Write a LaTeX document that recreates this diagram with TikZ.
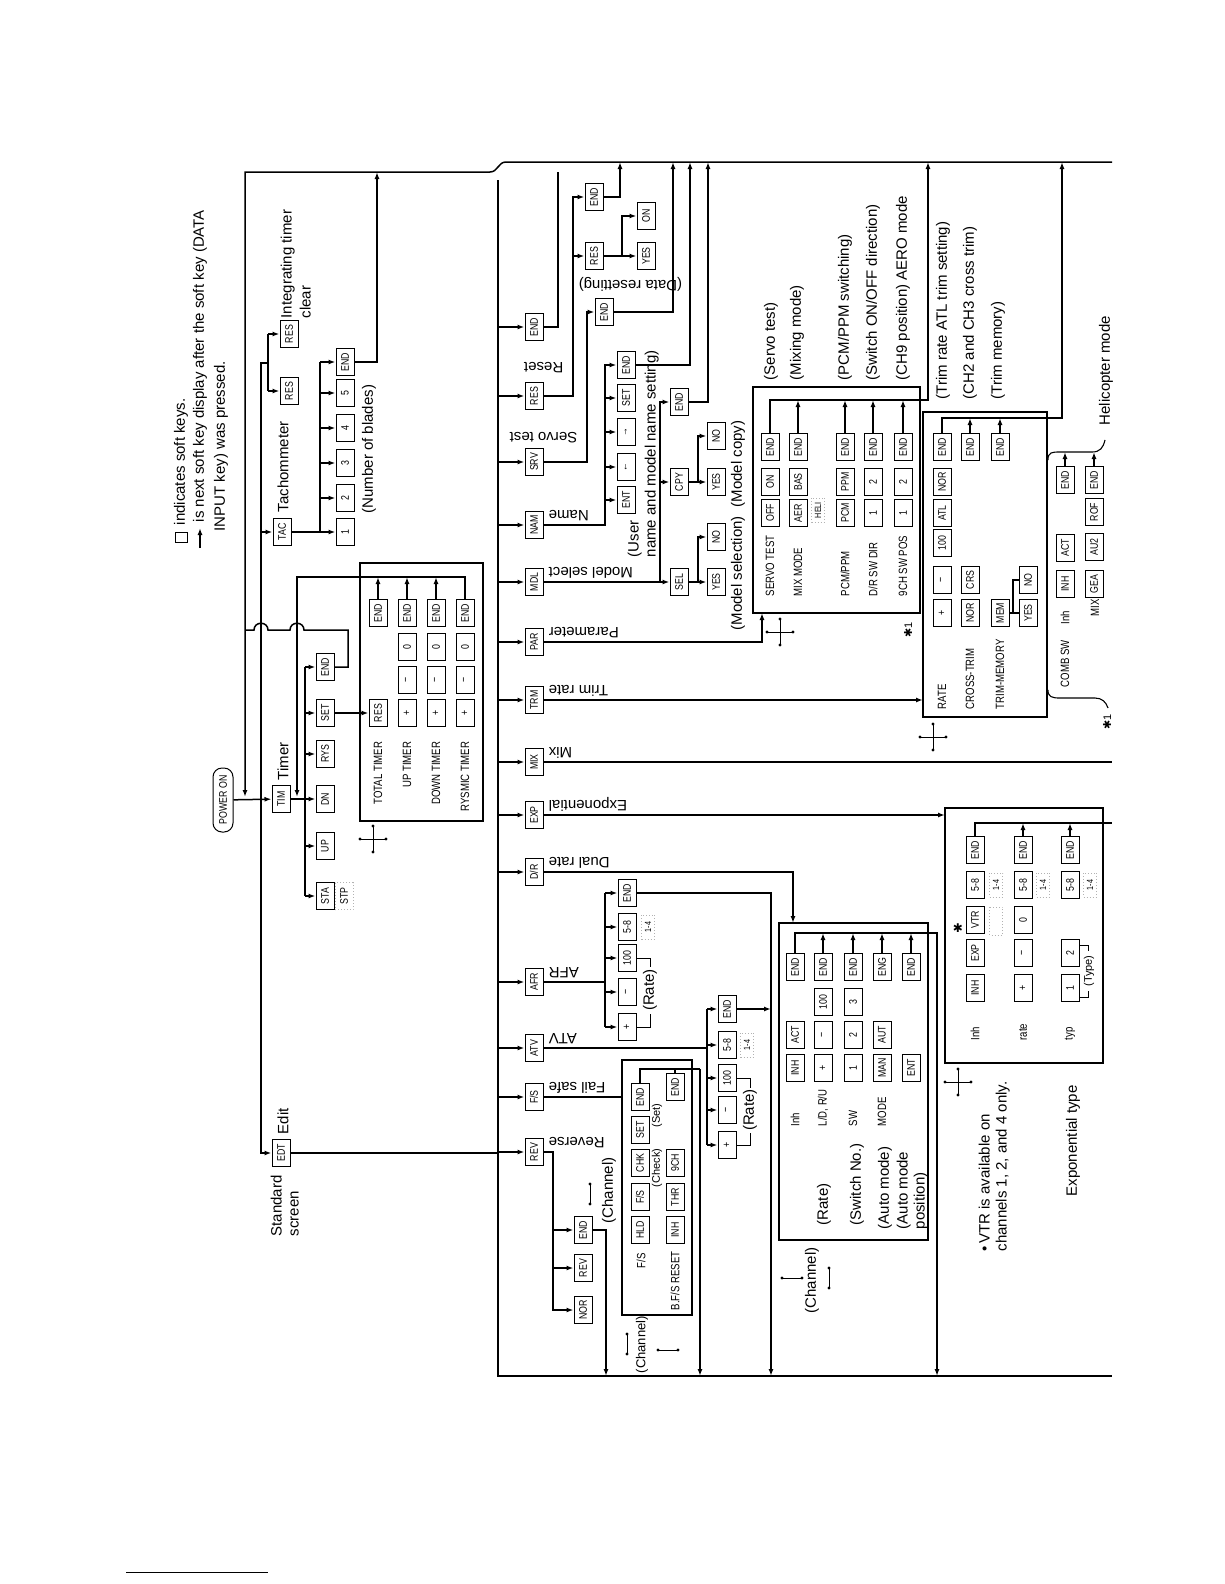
\documentclass[tikz,border=0pt]{standalone}
\usepackage{fontspec}
\setmainfont{Liberation Sans}
\newfontfamily\condfont[FakeStretch=0.8]{Liberation Sans}
\newfontfamily\symfont{DejaVu Sans}
\usepackage{tikz}
\usetikzlibrary{positioning, shapes, arrows.meta, calc, decorations.pathreplacing}

\begin{document}
\begin{tikzpicture}[x=1pt, y=-1pt, line width=1.5pt,
    >={Latex[length=7pt, width=5pt]},
    font=\fontsize{15}{17}\selectfont,
    key/.style={draw, line width=1pt, fill=white, rotate=90, minimum width=27pt,
      minimum height=18pt, inner sep=0.5pt, font=\condfont\fontsize{11}{11}\selectfont},
    ghost/.style={key, draw=gray!60, dotted, fill=none},
    smallghost/.style={ghost, minimum width=24pt, minimum height=13pt, font=\condfont\fontsize{9}{9}\selectfont},
    pill/.style={key, rounded corners=9pt, minimum width=64pt, minimum height=20pt},
    lab/.style={rotate=90, anchor=west, inner sep=0pt},
    blab/.style={lab, font=\condfont\fontsize{12}{13}\selectfont},
    slab/.style={lab, font=\fontsize{11}{12}\selectfont},
    flip/.style={rotate=180, anchor=north east, inner sep=0pt},
    xhair/.pic={
      \draw[line width=0.8pt] (-13,0) -- (13,0) (0,-13) -- (0,13);
      \fill (-13,0) circle (1.7) (13,0) circle (1.7) (0,-13) circle (1.7) (0,13) circle (1.7);},
    dmark/.pic={
      \draw[line width=0.8pt] (-10,0) -- (10,0);
      \fill (-10,0) circle (1.6) (10,0) circle (1.6);}]
\useasboundingbox (0,0) rectangle (1224,1584);

% bus positions
\coordinate (mb) at (498,0);
\coordinate (lb) at (261,0);
\coordinate (tb) at (305,0);
\coordinate (tcb) at (320,0);
\coordinate (rsb) at (573,0);
\coordinate (nmb) at (605,0);
\coordinate (mdb) at (660,0);
\coordinate (afb) at (605,0);
\coordinate (atb) at (707,0);
\coordinate (rvb) at (553,0);
\coordinate (tbline) at (0,577);
\coordinate (pline) at (0,400);
\coordinate (trline) at (0,418);
\coordinate (chline) at (0,933);
\coordinate (vline) at (0,823);
\coordinate (fsline) at (0,1069);
\coordinate (hbrace) at (0,452);

% legend
\node[draw, line width=0.9pt, minimum width=12pt, minimum height=10pt, inner sep=0pt] (lgBox) at (181,537) {};
\node[lab] (lgTxt1) at (181,526) {indicates soft keys.};
\coordinate (lgArrA) at (200,548);
\coordinate (lgArrB) at (200,528);
\draw[->] (lgArrA) -- (lgArrB);
\node[lab] (lgTxt2) at (200,523) {is next soft key display after the soft key (DATA};
\node[lab] (lgTxt3) at (221,532) {INPUT key) was pressed.};

% power on, tachometer, edit
\node[pill] (pwr) at (223,800) {POWER ON};
\node[key] (tmTim) at (281,799) {TIM};
\node[lab] (tmLab) at (283,781) {Timer};
\node[key] (tcTac) at (282,532) {TAC};
\node[lab] (tcLab) at (283,513) {Tachommeter};
\node[key] (trRes1) at (289,391) {RES};
\node[key] (trRes2) at (289,334) {RES};
\node[lab, align=left, anchor=north west] (trLab) at (280,319) {Integrating timer\\[2pt]clear};
\node[key] (edt) at (281,1153) {EDT};
\node[lab] (edLab) at (283,1135) {Edit};
\node[lab, align=left, anchor=north west] (stdLab) at (270,1237) {Standard\\screen};

\draw[->] (pwr) -- (tmTim);
\draw[->] (268,363) -- (261,363) -- (lb |- edt) -- (edt);
\draw (268,334) -- (268,391);
\draw[->] (268,334) -- (trRes2);
\draw[->] (268,391) -- (trRes1);
\draw[->] (lb |- tcTac) -- (tcTac);

% tachometer blades
\node[key] (tc1) at (345,532) {1};
\node[key] (tc2) at (345,498) {2};
\node[key] (tc3) at (345,463) {3};
\node[key] (tc4) at (345,428) {4};
\node[key] (tc5) at (345,393) {5};
\node[key] (tcEnd) at (345,362) {END};
\node[lab] (tcNote) at (369,514) {(Number of blades)};
\draw[->] (tcTac) -- (tc1);
\draw (tcb |- tcEnd) -- (tcb |- tc1);
\foreach \n in {tc2,tc3,tc4,tc5,tcEnd}
  \draw[->] (tcb |- \n) -- (\n);
\draw[->] (tcEnd) -| (377,172);

% timer keys
\node[key] (tmDn) at (325,799) {DN};
\node[key] (tmUp) at (325,846) {UP};
\node[key] (tmSta) at (325,896) {STA};
\node[ghost] (tmStp) at (344,896) {STP};
\node[key] (tmRys) at (325,754) {RYS};
\node[key] (tmSet) at (325,713) {SET};
\node[key] (tmEnd) at (325,667) {END};
\draw[->] (tmTim) -- (tmDn);
\draw (tb |- tmEnd) -- (tb |- tmSta);
\foreach \n in {tmEnd,tmSet,tmRys,tmUp,tmSta}
  \draw[->] (tb |- \n) -- (\n);
\draw (tmEnd) -| (348,630) -- (304,630) .. controls (304,621) and (290,621) .. (290,630)
  -- (268,630) .. controls (268,621) and (254,621) .. (254,630) -- (245,630);

% timer box
\draw (360,563) rectangle (483,821);
\node[key] (tbRes) at (378,713) {RES};
\node[key] (tbEnd1) at (378,613) {END};
\foreach \x/\r in {407/2,436/3,465/4} {
  \node[key] (tbPlus\r) at (\x,713) {+};
  \node[key] (tbMinus\r) at (\x,680) {−};
  \node[key] (tbZero\r) at (\x,647) {0};
  \node[key] (tbEnd\r) at (\x,613) {END};
}
\node[blab, anchor=east] (tbLab1) at (378,741) {TOTAL TIMER};
\node[blab, anchor=east] (tbLab2) at (407,741) {UP TIMER};
\node[blab, anchor=east] (tbLab3) at (436,741) {DOWN TIMER};
\node[blab, anchor=east] (tbLab4) at (465,741) {RYSMIC TIMER};
\draw[->] (tmSet) -- (tbRes);
\draw[->] (tbEnd4) |- (297,577) -- (297,797);
\foreach \n in {tbEnd1,tbEnd2,tbEnd3}
  \draw[->] (\n) -- (\n |- tbline);
\pic at (373,839) {xhair};

% main buses
\draw[->] (1112,162) -- (506,162) .. controls (498,162) and (498,172) .. (490,172) -- (245,172) -- (245,797);
\draw (498,180) -- (498,1376) -- (1112,1376);
\draw (edt) -- (mb |- edt);

% first END
\node[key] (eEnd) at (534,327) {END};
\draw[->] (mb |- eEnd) -- (eEnd);
\draw (eEnd) -| (558,172);

% reset
\node[key] (kRes) at (534,396) {RES};
\node[flip, anchor=north west] (kResLab) at (564,374) {Reset};
\draw[->] (mb |- kRes) -- (kRes);
\node[key] (rsEnd) at (594,197) {END};
\node[key] (rsRes) at (594,256) {RES};
\node[key] (rsOn) at (646,216) {ON};
\node[key] (rsYes) at (646,256) {YES};
\node[flip, anchor=south east] (rsLab) at (578,277) {(Data resetting)};
\draw[->] (kRes) -| (rsb |- rsEnd) -- (rsEnd);
\draw[->] (rsb |- rsRes) -- (rsRes);
\draw[->] (rsRes) -- (rsYes);
\draw[->] (622,256) |- (rsOn);
\draw[->] (rsEnd) -| (620,162);

% servo test
\node[key] (kSrv) at (534,462) {SRV};
\node[flip, anchor=north west] (kSrvLab) at (578,444) {Servo test};
\draw[->] (mb |- kSrv) -- (kSrv);
\node[key] (svEnd) at (604,312) {END};
\draw[->] (kSrv) -| (587,312) -- (svEnd);
\draw[->] (svEnd) -| (673,162);

% name
\node[key] (kNam) at (534,525) {NAM};
\node[flip] (kNamLab) at (548,522) {Name};
\draw[->] (mb |- kNam) -- (kNam);
\node[key] (nmEnt) at (626,500) {ENT};
\node[key] (nmLeft) at (626,467) {←};
\node[key] (nmRight) at (626,432) {→};
\node[key] (nmSet) at (626,398) {SET};
\node[key] (nmEnd) at (626,365) {END};
\draw[->] (kNam) -| (nmb |- nmEnd) -- (nmEnd);
\foreach \n in {nmEnt,nmLeft,nmRight,nmSet}
  \draw[->] (nmb |- \n) -- (\n);
\draw[->] (nmEnd) -| (690,162);
\node[lab, align=left, anchor=north west] (nmLab) at (627,558) {(User\\name and model name setting)};

% model select
\node[key] (kMdl) at (534,582) {MDL};
\node[flip] (kMdlLab) at (548,579) {Model select};
\draw[->] (mb |- kMdl) -- (kMdl);
\node[key] (mdSel) at (679,582) {SEL};
\node[key] (mdCpy) at (679,482) {CPY};
\node[key] (mdEnd) at (679,402) {END};
\node[key] (mdSy) at (716,582) {YES};
\node[key] (mdSn) at (716,537) {NO};
\node[key] (mdCy) at (716,482) {YES};
\node[key] (mdCn) at (716,436) {NO};
\draw[->] (kMdl) -- (mdSel);
\draw[->] (mdb |- mdSel) -- (mdb |- mdEnd) -- (mdEnd);
\draw[->] (mdb |- mdCpy) -- (mdCpy);
\draw[->] (mdSel) -- (mdSy);
\draw[->] (698,582) |- (mdSn);
\draw[->] (mdCpy) -- (mdCy);
\draw[->] (698,482) |- (mdCn);
\draw[->] (mdEnd) -| (708,162);
\node[lab] (mdLab1) at (738,631) {(Model selection)};
\node[lab] (mdLab2) at (738,508) {(Model copy)};

% parameter
\node[key] (kPar) at (534,642) {PAR};
\node[flip] (kParLab) at (548,639) {Parameter};
\draw[->] (mb |- kPar) -- (kPar);
\draw[->] (kPar) -| (762,613);
\draw (753,387) rectangle (920,613);
\node[key] (psOff) at (770,513) {OFF};
\node[key] (psOn) at (770,482) {ON};
\node[key] (psEnd) at (770,447) {END};
\node[key] (pmAer) at (798,513) {AER};
\node[key] (pmBas) at (798,482) {BAS};
\node[key] (pmEnd) at (798,447) {END};
\node[smallghost] (pmHeli) at (818,510) {HELI};
\node[key] (ppPcm) at (845,513) {PCM};
\node[key] (ppPpm) at (845,482) {PPM};
\node[key] (ppEnd) at (845,447) {END};
\node[key] (pdOne) at (873,513) {1};
\node[key] (pdTwo) at (873,482) {2};
\node[key] (pdEnd) at (873,447) {END};
\node[key] (pcOne) at (903,513) {1};
\node[key] (pcTwo) at (903,482) {2};
\node[key] (pcEnd) at (903,447) {END};
\node[blab] (psLab) at (770,597) {SERVO TEST};
\node[blab] (pmLab) at (798,597) {MIX MODE};
\node[blab] (ppLab) at (845,597) {PCM/PPM};
\node[blab] (pdLab) at (873,597) {D/R SW DIR};
\node[blab] (pcLab) at (903,597) {9CH SW POS};
\draw[->] (psEnd) |- (928,400) -- (928,162);
\foreach \n in {pmEnd,ppEnd,pdEnd,pcEnd}
  \draw[->] (\n) -- (\n |- pline);
\node[lab] (psNote) at (771,381) {(Servo test)};
\node[lab] (pmNote) at (797,381) {(Mixing mode)};
\node[lab] (ppNote) at (845,381) {(PCM/PPM switching)};
\node[lab] (pdNote) at (873,381) {(Switch ON/OFF direction)};
\node[lab] (pcNote) at (903,381) {(CH9 position)\ AERO mode};
\pic at (780,632) {xhair};
\node[lab, font=\fontsize{11}{11}\selectfont] (parStar) at (908,638) {{\symfont ✱}1};

% trim rate
\node[key] (kTrm) at (534,700) {TRM};
\node[flip] (kTrmLab) at (548,697) {Trim rate};
\draw[->] (mb |- kTrm) -- (kTrm);
\draw[->] (kTrm) -- (923,700);
\draw (923,412) rectangle (1047,717);
\node[key] (trPlus) at (942,613) {+};
\node[key] (trMinus) at (942,580) {−};
\node[key] (trHund) at (942,543) {100};
\node[key] (trAtl) at (942,513) {ATL};
\node[key] (trNor) at (942,482) {NOR};
\node[key] (trEnd) at (942,447) {END};
\node[key] (ctNor) at (970,613) {NOR};
\node[key] (ctCrs) at (970,580) {CRS};
\node[key] (ctEnd) at (970,447) {END};
\node[key] (trmMem) at (1000,613) {MEM};
\node[key] (trmEnd) at (1000,447) {END};
\node[key] (trmYes) at (1028,613) {YES};
\node[key] (trmNo) at (1028,580) {NO};
\node[blab] (trLabA) at (942,710) {RATE};
\node[blab] (trLabB) at (970,710) {CROSS-TRIM};
\node[blab] (trLabC) at (1000,710) {TRIM-MEMORY};
\draw (trmMem) -- (trmYes);
\draw (1013,613) |- (trmNo);
\draw[->] (trEnd) |- (1062,418) -- (1062,162);
\draw[->] (ctEnd) -- (ctEnd |- trline);
\draw[->] (trmEnd) -- (trmEnd |- trline);
\node[lab] (trNoteA) at (943,400) {(Trim rate ATL trim setting)};
\node[lab] (trNoteB) at (970,400) {(CH2 and CH3 cross trim)};
\node[lab] (trNoteC) at (998,400) {(Trim memory)};
\pic at (933,737) {xhair};

% combination switch (helicopter mode)
\node[key] (csInh) at (1065,584) {INH};
\node[key] (csAct) at (1065,548) {ACT};
\node[key] (csEnd) at (1065,480) {END};
\node[key] (cmGea) at (1094,584) {GEA};
\node[key] (cmAu2) at (1094,547) {AU2};
\node[key] (cmRof) at (1094,512) {ROF};
\node[key] (cmEnd) at (1094,480) {END};
\node[blab] (csLab) at (1065,688) {COMB SW};
\node[blab] (csInhLab) at (1065,625) {Inh};
\node[blab] (cmLab) at (1095,617) {MIX};
\draw[->] (csEnd) -- (csEnd |- hbrace);
\draw[->] (cmEnd) -- (cmEnd |- hbrace);
\draw[line width=1.1pt] (1048,460) .. controls (1048,452) and (1052,452) .. (1060,452) -- (1092,452)
  .. controls (1100,452) and (1103,448) .. (1105,440);
\draw[line width=1.1pt] (1048,690) .. controls (1048,697) and (1052,698) .. (1060,698) -- (1095,698)
  .. controls (1102,698) and (1106,702) .. (1108,708);
\node[lab] (heliLab) at (1106,426) {Helicopter mode};
\node[lab, font=\fontsize{11}{11}\selectfont] (heliStar) at (1107,730) {{\symfont ✱}1};

% mix
\node[key] (kMix) at (534,762) {MIX};
\node[flip] (kMixLab) at (548,759) {Mix};
\draw[->] (mb |- kMix) -- (kMix);
\draw (kMix) -- (1112,762);

% exponential
\node[key] (kExp) at (534,815) {EXP};
\node[flip] (kExpLab) at (548,812) {Exponential};
\draw[->] (mb |- kExp) -- (kExp);
\draw[->] (kExp) -- (945,815);
\draw (945,808) rectangle (1103,1063);
\node[key] (vInh) at (975,988) {INH};
\node[key] (vExp) at (975,953) {EXP};
\node[key] (vVtr) at (975,920) {VTR};
\node[key] (vFive1) at (975,885) {5-8};
\node[key] (vEnd1) at (975,850) {END};
\node[smallghost] (vQuad1) at (996,885) {1-4};
\node[smallghost, minimum width=28pt] (vBlank) at (996,921) {};
\node[inner sep=0pt, font=\symfont\fontsize{12}{12}\selectfont] (vStar) at (958,928) {✱};
\node[key] (vPlus) at (1023,988) {+};
\node[key] (vMinus) at (1023,953) {−};
\node[key] (vZero) at (1023,920) {0};
\node[key] (vFive2) at (1023,885) {5-8};
\node[key] (vEnd2) at (1023,850) {END};
\node[smallghost] (vQuad2) at (1043,885) {1-4};
\node[key] (vOne) at (1070,988) {1};
\node[key] (vTwo) at (1070,953) {2};
\node[key] (vFive3) at (1070,885) {5-8};
\node[key] (vEnd3) at (1070,850) {END};
\node[smallghost] (vQuad3) at (1090,885) {1-4};
\node[blab] (vLabA) at (975,1041) {Inh};
\node[blab] (vLabB) at (1023,1041) {rate};
\node[blab] (vLabC) at (1070,1041) {typ};
\draw[line width=0.9pt] (1079,997) -- (1088,997) -- (1088,991);
\draw[line width=0.9pt] (1079,945) -- (1088,945) -- (1088,951);
\node[rotate=90, inner sep=0pt, font=\fontsize{11}{11}\selectfont] (vType) at (1089,971) {(Type)};
\draw (vEnd1) |- (1112,823);
\draw[->] (vEnd2) -- (vEnd2 |- vline);
\draw[->] (vEnd3) -- (vEnd3 |- vline);
\pic at (958,1082) {xhair};
\node[lab, align=left, anchor=north west] (vtrNote) at (978,1252) {\textbullet\,VTR is available on\\channels 1, 2, and 4 only.};
\node[lab] (expNote) at (1073,1197) {Exponential type};

% dual rate
\node[key] (kDr) at (534,872) {D/R};
\node[flip] (kDrLab) at (548,869) {Dual rate};
\draw[->] (mb |- kDr) -- (kDr);
\draw[->] (kDr) -| (793,923);
\draw (779,923) rectangle (928,1240);
\node[key] (chInh) at (795,1068) {INH};
\node[key] (chAct) at (795,1035) {ACT};
\node[key] (chEnd1) at (795,967) {END};
\node[key] (chPlus) at (823,1068) {+};
\node[key] (chMinus) at (823,1035) {−};
\node[key] (chHund) at (823,1002) {100};
\node[key] (chEnd2) at (823,967) {END};
\node[key] (chOne) at (853,1068) {1};
\node[key] (chTwo) at (853,1035) {2};
\node[key] (chThree) at (853,1002) {3};
\node[key] (chEnd3) at (853,967) {END};
\node[key] (chMan) at (882,1068) {MAN};
\node[key] (chAut) at (882,1035) {AUT};
\node[key] (chEng) at (882,967) {ENG};
\node[key] (chEnt) at (911,1068) {ENT};
\node[key] (chEnd5) at (911,967) {END};
\node[blab] (chLabA) at (795,1127) {Inh};
\node[blab] (chLabB) at (823,1127) {L/D, R/U};
\node[blab] (chLabC) at (853,1127) {SW};
\node[blab] (chLabD) at (882,1127) {MODE};
\node[lab] (chNoteA) at (824,1226) {(Rate)};
\node[lab] (chNoteB) at (857,1226) {(Switch No.)};
\node[lab] (chNoteC) at (885,1230) {(Auto mode)};
\node[lab, align=left, anchor=north west] (chNoteD) at (896,1230) {(Auto mode\\position)};
\draw[->] (chEnd1) |- (937,933) -- (937,1376);
\foreach \n in {chEnd2,chEnd3,chEng,chEnd5}
  \draw[->] (\n) -- (\n |- chline);
\node[lab] (chChan) at (812,1314) {(Channel)};
\pic at (792,1278) {dmark};
\pic[rotate=90] at (829,1278) {dmark};

% AFR
\node[key] (kAfr) at (534,982) {AFR};
\node[flip] (kAfrLab) at (548,979) {AFR};
\draw[->] (mb |- kAfr) -- (kAfr);
\node[key] (afEnd) at (627,893) {END};
\node[key] (afFive) at (627,927) {5-8};
\node[key] (afHund) at (627,958) {100};
\node[key] (afMinus) at (627,992) {−};
\node[key] (afPlus) at (627,1027) {+};
\node[smallghost] (afQuad) at (648,927) {1-4};
\draw (kAfr) -- (afb |- kAfr);
\draw (afb |- afEnd) -- (afb |- afPlus);
\foreach \n in {afEnd,afFive,afHund,afMinus,afPlus}
  \draw[->] (afb |- \n) -- (\n);
\draw[->] (afEnd) -| (771,1376);
\draw[line width=0.9pt] (afHund) -| (650,967);
\draw[line width=0.9pt] (afPlus) -| (650,1014);
\node[rotate=90, inner sep=0pt] (afRate) at (650,990) {(Rate)};

% ATV
\node[key] (kAtv) at (534,1048) {ATV};
\node[flip] (kAtvLab) at (548,1045) {ATV};
\draw[->] (mb |- kAtv) -- (kAtv);
\node[key] (atEnd) at (727,1009) {END};
\node[key] (atFive) at (727,1045) {5-8};
\node[key] (atHund) at (727,1078) {100};
\node[key] (atMinus) at (727,1110) {−};
\node[key] (atPlus) at (727,1145) {+};
\node[smallghost] (atQuad) at (747,1045) {1-4};
\draw (kAtv) -- (atb |- kAtv);
\draw (atb |- atEnd) -- (atb |- atPlus);
\foreach \n in {atEnd,atFive,atHund,atMinus,atPlus}
  \draw[->] (atb |- \n) -- (\n);
\draw[->] (atEnd) -- (771,1009);
\draw[line width=0.9pt] (atHund) -| (750,1088);
\draw[line width=0.9pt] (atPlus) -| (750,1133);
\node[rotate=90, inner sep=0pt] (atRate) at (750,1110) {(Rate)};

% fail safe
\node[key] (kFs) at (534,1097) {F/S};
\node[flip] (kFsLab) at (548,1094) {Fail safe};
\draw[->] (mb |- kFs) -- (kFs);
\draw (kFs) -- (622,1097);
\draw (622,1060) rectangle (692,1315);
\node[key] (fsHld) at (640,1230) {HLD};
\node[key] (fsFs) at (640,1197) {F/S};
\node[key] (fsChk) at (640,1163) {CHK};
\node[key] (fsSet) at (640,1130) {SET};
\node[key] (fsEnd) at (640,1097) {END};
\node[key] (fsInh) at (675,1230) {INH};
\node[key] (fsThr) at (675,1197) {THR};
\node[key] (fsNine) at (675,1163) {9CH};
\node[key] (fsEndB) at (675,1087) {END};
\node[blab] (fsLabA) at (641,1269) {F/S};
\node[blab] (fsLabB) at (675,1311) {B.F/S RESET};
\node[slab] (fsChkLab) at (657,1188) {(Check)};
\node[slab] (fsSetLab) at (657,1128) {(Set)};
\draw (fsEnd) |- (700,1069);
\draw (fsEndB) -- (fsEndB |- fsline);
\draw[->] (700,1069) -- (700,1376);

% reverse
\node[key] (kRev) at (534,1152) {REV};
\node[flip] (kRevLab) at (548,1149) {Reverse};
\draw[->] (mb |- kRev) -- (kRev);
\node[key] (rvEnd) at (583,1230) {END};
\node[key] (rvRev) at (583,1268) {REV};
\node[key] (rvNor) at (583,1310) {NOR};
\draw[->] (kRev) -| (rvb |- rvNor) -- (rvNor);
\draw[->] (rvb |- rvEnd) -- (rvEnd);
\draw[->] (rvb |- rvRev) -- (rvRev);
\draw[->] (rvEnd) -| (606,1376);
\node[lab] (rvChan) at (609,1224) {(Channel)};
\pic[rotate=90] at (590,1194) {dmark};
\node[lab, font=\fontsize{13}{13}\selectfont] (fsChan) at (642,1374) {(Channel)};
\pic[rotate=90] at (627,1344) {dmark};
\pic at (668,1350) {dmark};

% page rule
\draw[line width=1pt] (126,1572) -- (268,1572);
\end{tikzpicture}
\end{document}
